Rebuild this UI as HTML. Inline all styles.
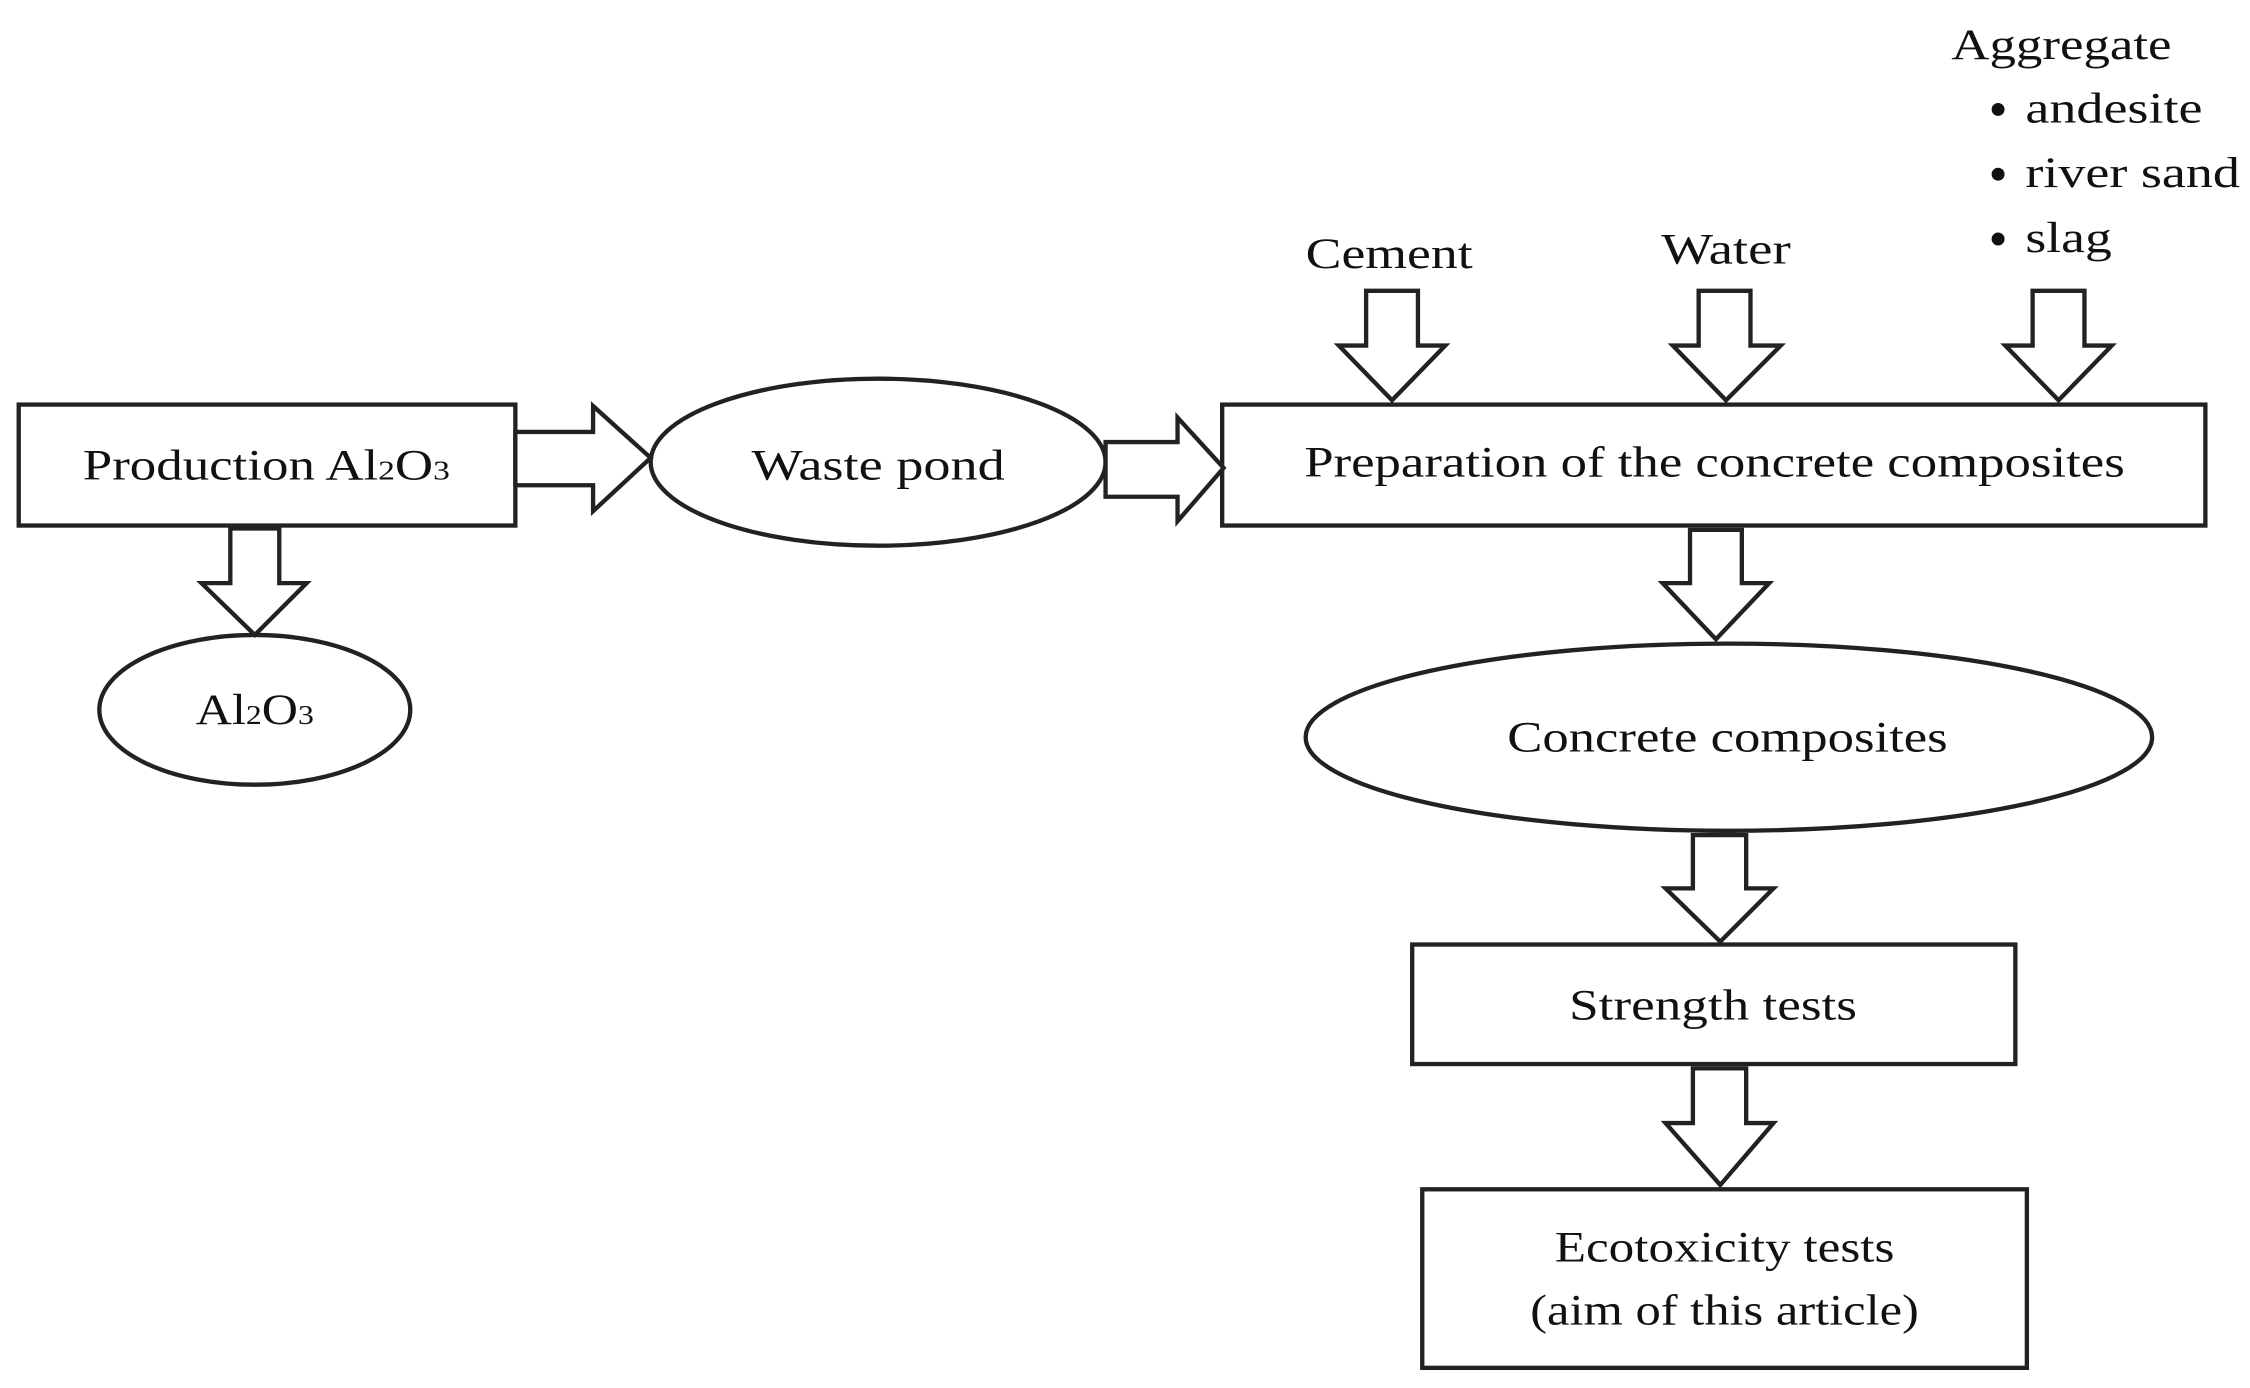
<!DOCTYPE html>
<html><head><meta charset="utf-8"><style>
html,body{margin:0;padding:0;background:#fff;}
svg{display:block;}
text{font-family:"Liberation Serif",serif;fill:#111;}
</style></head><body>
<svg width="2250" height="1388" viewBox="0 0 1563 964" preserveAspectRatio="none" xmlns="http://www.w3.org/2000/svg">
<g fill="#fff" stroke="#222" stroke-width="3" stroke-linejoin="miter">
<!-- boxes -->
<rect x="13" y="281" width="345" height="84"/>
<rect x="849" y="281" width="683" height="84"/>
<rect x="981" y="656" width="419" height="83"/>
<rect x="988" y="826" width="420" height="124"/>
<!-- ellipses -->
<ellipse cx="610" cy="321" rx="158" ry="58"/>
<ellipse cx="177" cy="493" rx="108" ry="52"/>
<ellipse cx="1201" cy="512" rx="294" ry="65"/>
<!-- right arrows -->
<polygon points="358,300 412,300 412,282 452,318 412,355 412,337 358,337"/>
<polygon points="768,307 818,307 818,290 850,325 818,362 818,345 768,345"/>
<!-- down arrows -->
<polygon points="949,202 985,202 985,240 1004,240 967,278 930,240 949,240"/>
<polygon points="1180,202 1216,202 1216,240 1237,240 1199,278 1162,240 1180,240"/>
<polygon points="1412,202 1448,202 1448,240 1467,240 1430,278 1393,240 1412,240"/>
<polygon points="160,367 194,367 194,405 213,405 177,441 140,405 160,405"/>
<polygon points="1174,368 1210,368 1210,405 1229,405 1192,444 1155,405 1174,405"/>
<polygon points="1176,580 1213,580 1213,617 1232,617 1195,654 1157,617 1176,617"/>
<polygon points="1176,742 1213,742 1213,780 1232,780 1195,823 1157,780 1176,780"/>
</g>
<g font-size="30" text-anchor="middle">
<text x="185" y="333" textLength="255" lengthAdjust="spacingAndGlyphs">Production Al<tspan font-size="19">2</tspan>O<tspan font-size="19">3</tspan></text>
<text x="610" y="333" textLength="176" lengthAdjust="spacingAndGlyphs">Waste pond</text>
<text x="177" y="503" textLength="82" lengthAdjust="spacingAndGlyphs">Al<tspan font-size="19">2</tspan>O<tspan font-size="19">3</tspan></text>
<text x="1191" y="331" textLength="570" lengthAdjust="spacingAndGlyphs">Preparation of the concrete composites</text>
<text x="1200" y="522" textLength="306" lengthAdjust="spacingAndGlyphs">Concrete composites</text>
<text x="1190" y="708" textLength="200" lengthAdjust="spacingAndGlyphs">Strength tests</text>
<text x="1198" y="876" textLength="236" lengthAdjust="spacingAndGlyphs">Ecotoxicity tests</text>
<text x="1198" y="920" textLength="270" lengthAdjust="spacingAndGlyphs">(aim of this article)</text>
<text x="965" y="186" textLength="116" lengthAdjust="spacingAndGlyphs">Cement</text>
<text x="1199" y="183" textLength="90" lengthAdjust="spacingAndGlyphs">Water</text>
<text x="1432" y="41" textLength="153" lengthAdjust="spacingAndGlyphs">Aggregate</text>
</g>
<g font-size="30">
<circle cx="1388" cy="76" r="4.5" fill="#111"/>
<circle cx="1388" cy="121" r="4.5" fill="#111"/>
<circle cx="1388" cy="166" r="4.5" fill="#111"/>
<text x="1407" y="85" textLength="123" lengthAdjust="spacingAndGlyphs">andesite</text>
<text x="1407" y="130" textLength="149" lengthAdjust="spacingAndGlyphs">river sand</text>
<text x="1407" y="175" textLength="60" lengthAdjust="spacingAndGlyphs">slag</text>
</g>
</svg>
</body></html>
